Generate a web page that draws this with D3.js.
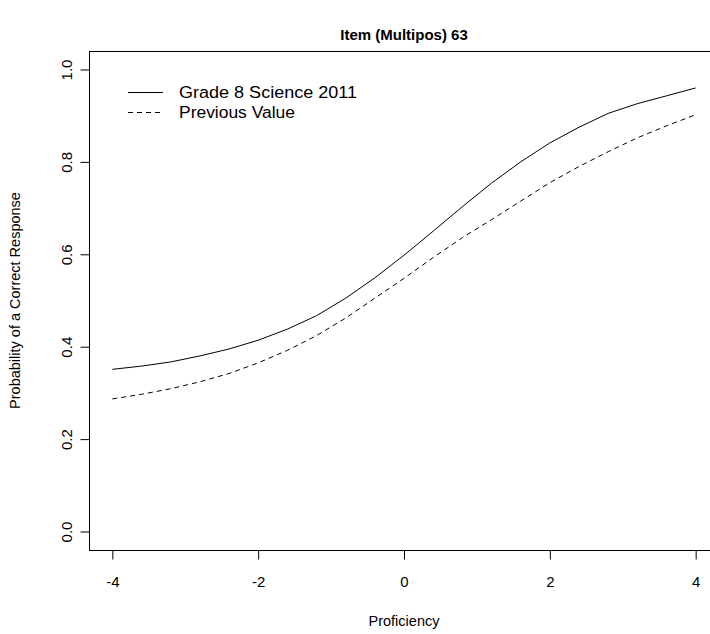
<!DOCTYPE html>
<html>
<head>
<meta charset="utf-8">
<script src="https://cdn.jsdelivr.net/npm/d3@7"></script>
<style>
  html, body { margin: 0; padding: 0; background: #fff; }
  svg { display: block; font-family: "Liberation Sans", Arial, Helvetica, sans-serif; }
</style>
</head>
<body>
<svg id="chart" width="710" height="634"></svg>
<script>
// Proficiency grid (theta)
const theta = [-4.0, -3.6, -3.2, -2.8, -2.4, -2.0, -1.6, -1.2, -0.8, -0.4, 0.0,
               0.4, 0.8, 1.2, 1.6, 2.0, 2.4, 2.8, 3.2, 3.6, 4.0];
// Item characteristic curve, current administration
const currentValues = [0.351, 0.358, 0.367, 0.380, 0.395, 0.414, 0.438, 0.467, 0.505, 0.549, 0.598,
                       0.650, 0.703, 0.754, 0.800, 0.841, 0.875, 0.905, 0.926, 0.943, 0.960];
// Item characteristic curve, previous parameters
const previousValues = [0.287, 0.297, 0.309, 0.324, 0.342, 0.365, 0.392, 0.424, 0.462, 0.505, 0.548,
                        0.593, 0.636, 0.675, 0.715, 0.755, 0.790, 0.822, 0.852, 0.878, 0.902];
const xTicks = [-4, -2, 0, 2, 4];
const yTicks = [0.0, 0.2, 0.4, 0.6, 0.8, 1.0];
const xTickLabels = ["-4", "-2", "0", "2", "4"];
const yTickLabels = ["0.0", "0.2", "0.4", "0.6", "0.8", "1.0"];
const seriesNames = ["Grade 8 Science 2011", "Previous Value"];
const titleText = "Item (Multipos) 63";
const xLabel = "Proficiency";
const yLabel = "Probability of a Correct Response";

const FONT = "Liberation Sans, Arial, Helvetica, sans-serif";
const svg = d3.select("#chart");
const plot = { left: 89, right: 719, top: 51, bottom: 550 };

// R-style 4% axis expansion
const x = d3.scaleLinear().domain([-4.32, 4.32]).range([plot.left, plot.right]);
const y = d3.scaleLinear().domain([-0.04, 1.04]).range([plot.bottom, plot.top]);

// Frame
svg.append("rect")
  .attr("x", plot.left + 0.5).attr("y", plot.top + 0.5)
  .attr("width", plot.right - plot.left).attr("height", plot.bottom - plot.top)
  .attr("fill", "none").attr("stroke", "#000").attr("stroke-width", 1);

// Axes
const xAxis = d3.axisBottom(x).tickValues(xTicks).tickSize(9).tickPadding(17)
  .tickFormat((d, i) => xTickLabels[i]);
const gx = svg.append("g").attr("transform", `translate(0,${plot.bottom + 0.5})`).call(xAxis);
gx.attr("font-size", 15).attr("font-family", FONT);
gx.select(".domain").remove();
gx.selectAll("text").attr("fill", "#000");

const yAxis = d3.axisLeft(y).tickValues(yTicks).tickSize(9).tickPadding(0)
  .tickFormat((d, i) => yTickLabels[i]);
const gy = svg.append("g").attr("transform", `translate(${plot.left + 0.5},0)`).call(yAxis);
gy.attr("font-size", 15).attr("font-family", FONT);
gy.select(".domain").remove();
gy.selectAll("text")
  .attr("fill", "#000")
  .attr("x", null).attr("dy", "0.35em")
  .attr("text-anchor", "middle")
  .attr("transform", "translate(-23,0) rotate(-90)");
svg.selectAll(".tick line").attr("stroke", "#000");

// Curves
const line = d3.line().x((d, i) => x(theta[i])).y(d => y(d));
svg.append("path").datum(currentValues)
  .attr("d", line).attr("fill", "none").attr("stroke", "#000").attr("stroke-width", 1);
svg.append("path").datum(previousValues)
  .attr("d", line).attr("fill", "none").attr("stroke", "#000").attr("stroke-width", 1)
  .attr("stroke-dasharray", "5,4");

// Legend
const legend = svg.append("g");
const dashes = [null, "5,4"];
const legendWidths = [178, 116];
seriesNames.forEach((name, i) => {
  const ly = 92 + i * 20;
  legend.append("line").attr("x1", 128).attr("x2", 163).attr("y1", ly + 0.5).attr("y2", ly + 0.5)
    .attr("stroke", "#000").attr("stroke-width", 1).attr("stroke-dasharray", dashes[i]);
  legend.append("text").attr("x", 179).attr("y", ly).attr("dy", "0.35em")
    .attr("font-size", 16).attr("textLength", legendWidths[i]).attr("lengthAdjust", "spacingAndGlyphs")
    .text(name);
});

// Titles
svg.append("text").attr("x", (plot.left + plot.right) / 2).attr("y", 40)
  .attr("text-anchor", "middle").attr("font-size", 15).attr("font-weight", "bold").text(titleText);
svg.append("text").attr("x", (plot.left + plot.right) / 2).attr("y", 626)
  .attr("text-anchor", "middle").attr("font-size", 14.5).text(xLabel);
svg.append("text").attr("transform", `translate(20,${(plot.top + plot.bottom) / 2}) rotate(-90)`)
  .attr("text-anchor", "middle").attr("font-size", 14.5).text(yLabel);
</script>
</body>
</html>
